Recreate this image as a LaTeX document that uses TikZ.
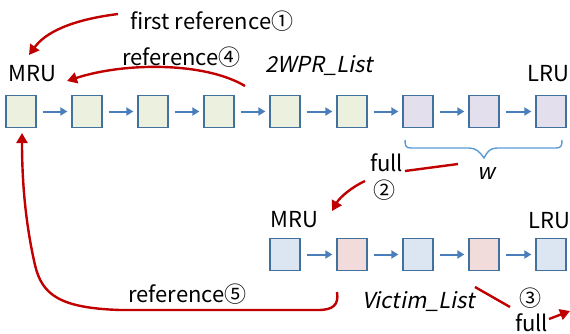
\documentclass[tikz,border=0pt]{standalone}
\usepackage{fontspec}
\setmainfont{Noto Sans CJK KR}[AutoFakeSlant=0.2]
\usetikzlibrary{arrows.meta}
\definecolor{boxline}{HTML}{41719C}
\definecolor{linkblue}{HTML}{4A7EBB}
\definecolor{bracecol}{HTML}{5B9BD5}
\definecolor{refred}{HTML}{C00000}
\definecolor{hotfill}{HTML}{EBF1DE}
\definecolor{wfill}{HTML}{E4DFEC}
\definecolor{vfill}{HTML}{DCE6F2}
\definecolor{pfill}{HTML}{F2DCDB}
\tikzset{
  cell/.style={draw=boxline, line width=1.3pt, minimum width=30pt, minimum height=32pt, inner sep=0pt},
  hot/.style={cell, fill=hotfill},
  wcell/.style={cell, fill=wfill},
  vcell/.style={cell, fill=vfill},
  pcell/.style={cell, fill=pfill},
  link/.style={draw=linkblue, line width=2pt, -{Triangle[length=7pt,width=8pt]}, shorten <=6pt, shorten >=4pt},
  refarrow/.style={draw=refred, line width=2.4pt, -{Triangle[length=10pt,width=11pt]}},
  refline/.style={draw=refred, line width=2.4pt},
  lbl/.style={inner sep=0pt, anchor=base west, font=\fontsize{22}{26}\selectfont},
  ilbl/.style={lbl, font=\fontsize{22}{26}\selectfont\itshape},
}
\begin{document}
\begin{tikzpicture}[x=1pt, y=-1pt]
\useasboundingbox (0,0) rectangle (570,333);

% 2WPR list
\node[hot]   (t1) at (21,111.5) {};
\node[hot]   (t2) at (87,111.5) {};
\node[hot]   (t3) at (153,111.5) {};
\node[hot]   (t4) at (219,111.5) {};
\node[hot]   (t5) at (285,111.5) {};
\node[hot]   (t6) at (352,111.5) {};
\node[wcell] (t7) at (418,111.5) {};
\node[wcell] (t8) at (484,111.5) {};
\node[wcell] (t9) at (551,111.5) {};
\foreach \a/\b in {t1/t2,t2/t3,t3/t4,t4/t5,t5/t6,t6/t7,t7/t8,t8/t9}
  \draw[link] (\a) -- (\b);

% victim list
\node[vcell] (b1) at (285,254.5) {};
\node[pcell] (b2) at (352,254.5) {};
\node[vcell] (b3) at (418,254.5) {};
\node[pcell] (b4) at (484,254.5) {};
\node[vcell] (b5) at (551,254.5) {};
\foreach \a/\b in {b1/b2,b2/b3,b3/b4,b4/b5}
  \draw[link] (\a) -- (\b);

% labels
\node[lbl]  (first) at (130,29) {first reference①};
\node[lbl]  (mruT)  at (8,81.5) {MRU};
\node[lbl]  (lruT)  at (527,81) {LRU};
\node[lbl]  (ref4)  at (122,65) {reference④};
\node[ilbl] (wpr)   at (265,72) {2WPR\_List};
\node[lbl]  (fullA) at (370,171) {full};
\node[inner sep=0pt, font=\fontsize{22}{26}\selectfont] (two) at (384,190) {②};
\node[ilbl, anchor=base] (wlab) at (486,179) {w};
\node[lbl]  (mruB)  at (270,227) {MRU};
\node[lbl]  (lruB)  at (528,228) {LRU};
\node[ilbl] (vic)   at (362,308) {Victim\_List};
\node[inner sep=0pt, font=\fontsize{22}{26}\selectfont] (three) at (530,298) {③};
\node[lbl]  (fullB) at (515,331) {full};
\node[lbl]  (ref5)  at (128,302) {reference⑤};

% brace over the last w cells
\draw[draw=bracecol, line width=1.4pt]
  (405,140) .. controls (405,146) and (406,148) .. (411,148) -- (469,148)
  .. controls (476,148) and (480,152) .. (484,158)
  .. controls (487,152) and (490,148) .. (497,148) -- (556,148)
  .. controls (561,148) and (562,146) .. (562,140);

% reference arrows
\coordinate (c1) at (118,14);
\coordinate (c1e) at (29,55);
\draw[refarrow] (c1) .. controls (70,20) and (45,33) .. (c1e);

\coordinate (c4) at (245,86);
\coordinate (c4e) at (67,81);
\draw[refarrow] (c4) .. controls (205,62) and (125,62) .. (c4e);

\coordinate (c5) at (337,292);
\coordinate (c5e) at (22,133);
\draw[refarrow] (c5) .. controls (339,305) and (333,310) .. (318,310) -- (120,310)
  .. controls (60,308) and (42,295) .. (35,265)
  .. controls (27,230) and (22,190) .. (c5e);

\coordinate (c2) at (365,181);
\coordinate (c2e) at (332,211);
\draw[refarrow] (c2) .. controls (352,187) and (340,197) .. (c2e);

\coordinate (fa) at (405,171);
\coordinate (fb) at (458,164);
\draw[refline] (fa) -- (fb);

\coordinate (va) at (475,287);
\coordinate (vb) at (510,307);
\draw[refline] (va) -- (vb);

\coordinate (ea) at (549,319);
\coordinate (eb) at (570,311);
\draw[refarrow] (ea) -- (eb);
\end{tikzpicture}
\end{document}
